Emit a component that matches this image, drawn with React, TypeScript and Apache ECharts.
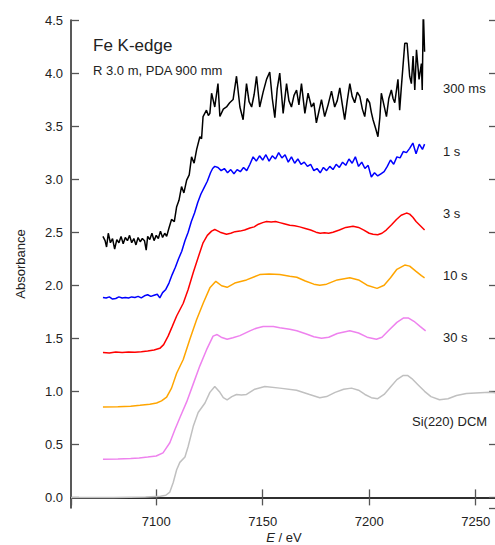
import React, { useEffect, useRef } from "react";
import * as echarts from "echarts";

// ---- data: [energy (eV), absorbance] ----
const dcmSi220: [number, number][] = [
  [7060, 0], [7080, 0], [7095, 0.003], [7102, 0.01], [7104.5, 0.02], [7106.4, 0.05], [7108, 0.14],
  [7109.6, 0.26], [7111.1, 0.33], [7113.5, 0.38], [7115, 0.48], [7117.4, 0.67], [7119.7, 0.8],
  [7122.9, 0.89], [7125.2, 0.99], [7127.5, 1.045], [7129.9, 0.99], [7131.5, 0.94], [7133.3, 0.92],
  [7135.5, 0.95], [7137.7, 0.97], [7140, 0.965], [7142.4, 0.97], [7146.3, 1.02], [7151, 1.045],
  [7158, 1.03], [7165.9, 1.01], [7172, 0.97], [7176.8, 0.94], [7180, 0.95], [7184, 0.99],
  [7188, 1.02], [7191.7, 1.03], [7195, 1.01], [7198, 0.97], [7201, 0.94], [7204, 0.93],
  [7207, 0.97], [7210, 1.04], [7213, 1.11], [7216, 1.15], [7218, 1.15], [7220, 1.12],
  [7223, 1.06], [7226, 1.0], [7229, 0.95], [7233, 0.92], [7237, 0.93], [7241, 0.96],
  [7245.6, 0.98], [7250, 0.985], [7256.5, 0.99], [7260, 0.985],
];

const s30: [number, number][] = [
  [7075, 0.36], [7082, 0.362], [7088, 0.367], [7092, 0.372], [7096, 0.38], [7100, 0.39],
  [7103.2, 0.42], [7106.4, 0.515], [7108.8, 0.64], [7111.1, 0.75], [7114.3, 0.9], [7117.4, 1.07],
  [7120.5, 1.24], [7123.6, 1.39], [7126.7, 1.52], [7128.6, 1.535], [7130.5, 1.51], [7133.3, 1.49],
  [7136, 1.505], [7139.3, 1.525], [7144, 1.57], [7147, 1.595], [7150.2, 1.61], [7155, 1.61],
  [7158, 1.6], [7162.7, 1.585], [7166, 1.57], [7170.5, 1.54], [7174, 1.515], [7177.6, 1.5],
  [7181, 1.51], [7185, 1.545], [7190.9, 1.57], [7195, 1.55], [7199, 1.51], [7203.4, 1.49],
  [7206, 1.51], [7209, 1.57], [7213, 1.65], [7216, 1.69], [7218.5, 1.69], [7221, 1.66],
  [7224, 1.61], [7226.5, 1.57],
];

const s10: [number, number][] = [
  [7075, 0.853], [7082, 0.855], [7088, 0.86], [7092.4, 0.868], [7097, 0.878], [7100.2, 0.89],
  [7102.5, 0.91], [7104.9, 0.945], [7107.2, 1.03], [7109.6, 1.17], [7112.7, 1.3], [7115.8, 1.49],
  [7119, 1.676], [7122.1, 1.833], [7125.2, 1.975], [7128, 2.037], [7130.7, 1.995], [7133.3, 1.98],
  [7136.9, 2.02], [7142.4, 2.05], [7148.6, 2.1], [7153, 2.105], [7158, 2.1], [7162.7, 2.085],
  [7166, 2.075], [7170, 2.04], [7174, 2.01], [7176.8, 2.0], [7180, 2.01], [7185, 2.05],
  [7190.9, 2.07], [7195, 2.05], [7199, 2.0], [7203.7, 1.97], [7207, 2.0], [7210, 2.07],
  [7213, 2.15], [7216.7, 2.19], [7219, 2.18], [7222, 2.13], [7224.5, 2.09], [7226, 2.07],
];

const s3: [number, number][] = [
  [7075, 1.365], [7078, 1.36], [7081, 1.37], [7084, 1.365], [7087, 1.37], [7090, 1.368],
  [7093, 1.372], [7096, 1.38], [7099, 1.39], [7101.7, 1.405], [7103.5, 1.44], [7105.6, 1.52],
  [7107.5, 1.61], [7109.6, 1.71], [7112.7, 1.83], [7115, 1.96], [7117.4, 2.12], [7120, 2.28],
  [7122, 2.4], [7124, 2.47], [7126, 2.51], [7127.5, 2.525], [7128.6, 2.515], [7130, 2.5],
  [7131.5, 2.49], [7133, 2.48], [7135, 2.49], [7137, 2.505], [7139.3, 2.51], [7141.5, 2.52],
  [7144, 2.54], [7146, 2.55], [7148, 2.575], [7150, 2.59], [7151.8, 2.6], [7154, 2.595],
  [7156, 2.6], [7158, 2.59], [7160, 2.58], [7162.7, 2.565], [7165, 2.56], [7167.4, 2.55],
  [7170, 2.535], [7172.5, 2.52], [7175, 2.5], [7177, 2.49], [7179, 2.495], [7181, 2.49],
  [7183, 2.5], [7186, 2.52], [7189, 2.545], [7192.4, 2.555], [7195, 2.545], [7197.5, 2.52],
  [7200, 2.49], [7201.8, 2.48], [7204, 2.475], [7206, 2.49], [7208, 2.52], [7210.5, 2.57],
  [7212.8, 2.62], [7215, 2.66], [7217.5, 2.68], [7219, 2.67], [7220.5, 2.64], [7222, 2.6],
  [7224, 2.56], [7226, 2.52],
];

const s1: [number, number][] = [
  [7075, 1.885], [7076.5, 1.88], [7078, 1.89], [7079.5, 1.87], [7081, 1.875], [7082.5, 1.89],
  [7084, 1.88], [7085.5, 1.885], [7087, 1.88], [7088.5, 1.89], [7090, 1.885], [7091.5, 1.895],
  [7093, 1.88], [7094.5, 1.9], [7096, 1.91], [7097.5, 1.895], [7099, 1.905], [7100.5, 1.915],
  [7101.7, 1.88], [7103, 1.93], [7104.5, 1.96], [7106, 2.02], [7107.5, 2.1], [7109, 2.17],
  [7110.5, 2.25], [7112, 2.32], [7113.5, 2.42], [7115, 2.5], [7116.5, 2.6], [7118, 2.68],
  [7119.5, 2.78], [7121, 2.86], [7122.5, 2.92], [7124, 2.98], [7125.5, 3.06], [7126.5, 3.1],
  [7127.5, 3.12], [7129, 3.11], [7130.5, 3.08], [7132, 3.1], [7133.5, 3.06], [7135, 3.09],
  [7136.5, 3.05], [7138, 3.09], [7139.5, 3.07], [7141, 3.11], [7142.5, 3.08], [7144, 3.14],
  [7145.5, 3.21], [7147, 3.17], [7148.5, 3.22], [7150, 3.18], [7151.5, 3.23], [7153, 3.17],
  [7154.5, 3.22], [7156, 3.19], [7157.5, 3.25], [7159, 3.2], [7160.5, 3.23], [7162, 3.16],
  [7163.5, 3.21], [7165, 3.15], [7166.5, 3.19], [7168, 3.14], [7169.5, 3.16], [7171, 3.12],
  [7172.5, 3.14], [7174, 3.08], [7175.5, 3.1], [7177, 3.06], [7178.5, 3.11], [7180, 3.08],
  [7181.5, 3.12], [7183, 3.09], [7184.5, 3.14], [7186, 3.11], [7187.5, 3.16], [7189, 3.13],
  [7190.5, 3.19], [7192, 3.15], [7193.5, 3.21], [7195, 3.12], [7196.5, 3.16], [7198, 3.1],
  [7199.5, 3.13], [7201, 3.02], [7202.5, 3.06], [7204, 3.03], [7205.5, 3.05], [7207, 3.07],
  [7208.5, 3.12], [7210, 3.18], [7211.5, 3.14], [7213, 3.21], [7214.5, 3.2], [7216, 3.26],
  [7217.5, 3.25], [7219, 3.29], [7220.5, 3.34], [7222, 3.24], [7223.5, 3.33], [7225, 3.28],
  [7226, 3.33],
];

const ms300: [number, number][] = [
  [7075, 2.46], [7076, 2.42], [7076.7, 2.36], [7077.5, 2.49], [7078.5, 2.4], [7079.5, 2.44],
  [7080.5, 2.34], [7081.5, 2.43], [7082.5, 2.4], [7083.5, 2.46], [7084.5, 2.39], [7085.5, 2.45],
  [7086.5, 2.42], [7087.5, 2.47], [7088.5, 2.4], [7089.5, 2.44], [7090.5, 2.38], [7091.5, 2.45],
  [7092.5, 2.41], [7093.5, 2.44], [7094.5, 2.42], [7095.3, 2.33], [7096, 2.46], [7097, 2.43],
  [7098, 2.49], [7099, 2.42], [7100, 2.47], [7101, 2.44], [7102, 2.51], [7103, 2.45],
  [7104, 2.49], [7104.9, 2.46], [7106, 2.54], [7107.2, 2.62], [7108.5, 2.6], [7109.6, 2.74],
  [7110.7, 2.8], [7111.9, 2.93], [7113, 2.87], [7114.3, 2.99], [7115.5, 3.04], [7116.6, 3.21],
  [7117.8, 3.15], [7119, 3.28], [7120.5, 3.4], [7121.3, 3.38], [7122, 3.59], [7123.6, 3.65],
  [7124.5, 3.6], [7125.2, 3.62], [7126, 3.81], [7127.5, 3.68], [7129, 3.9], [7129.9, 3.59],
  [7131.5, 3.66], [7133, 3.68], [7134.5, 3.72], [7136.1, 3.75], [7137.7, 3.97], [7139.3, 3.68],
  [7140.8, 3.56], [7142.4, 3.9], [7143.6, 3.73], [7144.8, 3.68], [7146, 3.8], [7147.1, 3.97],
  [7148.6, 3.68], [7150.2, 3.82], [7151.8, 3.94], [7153.3, 4.01], [7154.5, 3.76], [7155.7, 3.58],
  [7156.8, 3.85], [7158, 4.0], [7159.6, 3.62], [7161.2, 3.9], [7162.3, 3.74], [7163.5, 3.68],
  [7164.7, 3.79], [7165.9, 3.84], [7167, 3.7], [7168.2, 3.9], [7169.8, 3.62], [7171.3, 3.81],
  [7172.9, 3.68], [7174, 3.72], [7175.2, 3.53], [7176.4, 3.64], [7177.6, 3.75], [7179.1, 3.59],
  [7180.7, 3.7], [7182.3, 3.83], [7183.8, 3.68], [7185, 3.74], [7186.2, 3.86], [7187.4, 3.7],
  [7188.5, 3.56], [7189.7, 3.74], [7190.9, 3.9], [7192, 3.78], [7193.2, 3.72], [7194.4, 3.82],
  [7195.6, 3.78], [7196.8, 3.66], [7197.9, 3.59], [7199, 3.76], [7200.2, 3.72], [7201, 3.63],
  [7201.8, 3.56], [7203, 3.48], [7204.1, 3.4], [7205, 3.58], [7205.7, 3.81], [7206.9, 3.7],
  [7208.1, 3.59], [7209.2, 3.76], [7210.4, 3.84], [7211.2, 3.76], [7212, 3.72], [7213.5, 3.94],
  [7214.3, 3.65], [7215.1, 3.87], [7216.7, 4.28], [7217.8, 4.28], [7219, 3.97], [7219.8, 3.9],
  [7220.6, 4.16], [7221.4, 3.84], [7222.2, 4.22], [7223.4, 3.94], [7224.5, 4.09], [7224.9, 3.84],
  [7225.4, 4.6], [7226, 4.2],
];

const seriesNames = ["300 ms", "1 s", "3 s", "10 s", "30 s", "Si(220) DCM"];
const seriesColors = ["#000000", "#0000ff", "#ff0000", "#ffa500", "#ee82ee", "#c0c0c0"];
const seriesData = [ms300, s1, s3, s10, s30, dcmSi220];

const FONT = "'Liberation Sans', Arial, Helvetica, sans-serif";

export default function App() {
  const ref = useRef<HTMLDivElement>(null);
  useEffect(() => {
    if (!ref.current) return;
    const chart = echarts.init(ref.current, undefined, { renderer: "svg" });
    const axisLine = { show: true, lineStyle: { color: "#222", width: 1.5 } };
    const tick = { show: true, inside: true, length: 8, lineStyle: { color: "#555", width: 1.3 } };
    const labelStyle = { fontSize: 13, color: "#222", fontFamily: FONT };
    const textEl = (text: string, x: number, y: number, size: number) => ({
      type: "text",
      x,
      y,
      style: { text, fill: "#222", fontSize: size, fontFamily: FONT, verticalAlign: "middle", align: "left" },
    });
    chart.setOption({
      animation: false,
      grid: { left: 71, top: 20, width: 426, height: 488, containLabel: false, outerBoundsMode: "none" },
      xAxis: [
        {
          type: "value", min: 7060, max: 7260, splitNumber: 4, position: "bottom",
          axisLine, axisTick: tick, splitLine: { show: false },
          axisLabel: {
            ...labelStyle, margin: 7, showMinLabel: false, showMaxLabel: false,
            formatter: (v: number) => (v % 50 === 0 ? String(v) : ""),
          },
          name: "{i|E} / eV", nameLocation: "middle", nameGap: 22, nameMoveOverlap: false,
          nameTextStyle: {
            ...labelStyle, lineHeight: 14,
            rich: { i: { fontStyle: "italic", fontSize: 13, lineHeight: 14, fontFamily: FONT, color: "#222" } },
          },
        },
        {
          type: "value", min: 7060, max: 7260, splitNumber: 4, position: "top",
          axisLine, axisTick: tick, axisLabel: { show: false }, splitLine: { show: false },
        },
      ],
      yAxis: [
        {
          type: "value", min: -0.1, max: 4.5, splitNumber: 9, position: "left",
          axisLine, axisTick: tick, splitLine: { show: false },
          axisLabel: {
            ...labelStyle, margin: 8, showMinLabel: false,
            formatter: (v: number) => (Math.abs(v * 2 - Math.round(v * 2)) < 1e-6 ? v.toFixed(1) : ""),
          },
          name: "Absorbance", nameLocation: "middle", nameGap: 44, nameMoveOverlap: false, nameTextStyle: labelStyle,
        },
        {
          type: "value", min: -0.1, max: 4.5, splitNumber: 9, position: "right",
          axisLine, axisTick: tick, axisLabel: { show: false }, splitLine: { show: false },
        },
      ],
      series: seriesData.map((d, i) => ({
        type: "line",
        name: seriesNames[i],
        data: d,
        xAxisIndex: 0,
        yAxisIndex: 0,
        showSymbol: false,
        symbol: "none",
        clip: true,
        z: 10 - i,
        lineStyle: { color: seriesColors[i], width: 1.5 },
      })),
      graphic: [
        textEl("Fe K-edge", 93, 45, 17),
        textEl("R 3.0 m, PDA 900 mm", 93, 70, 13),
        textEl("300 ms", 443, 88, 13),
        textEl("1 s", 443, 151, 13),
        textEl("3 s", 443, 213, 13),
        textEl("10 s", 443, 275, 13),
        textEl("30 s", 443, 337, 13),
        textEl("Si(220) DCM", 412, 421, 13),
      ],
    });
    return () => chart.dispose();
  }, []);
  return (
    <div
      ref={ref}
      style={{ position: "fixed", left: 0, top: 0, width: 495, height: 545, background: "#fff" }}
    />
  );
}
